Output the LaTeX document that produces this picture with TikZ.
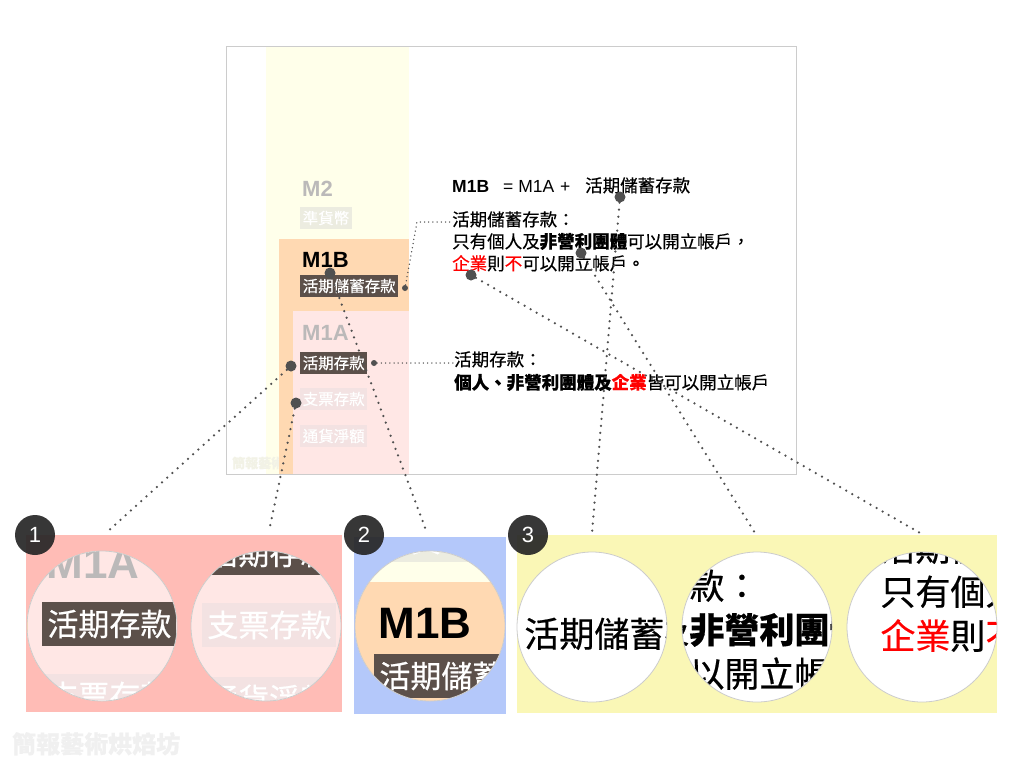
\documentclass[tikz,border=0pt]{standalone}
\usepackage{fontspec}
\setmainfont{Liberation Sans}
\newfontfamily\cjk{Noto Sans CJK TC}[FakeBold=0.5]
\usepackage{xcolor}
\usepackage{tikz}
\usetikzlibrary{positioning}
\definecolor{slyellow}{RGB}{255,255,234}
\definecolor{slpeach}{RGB}{255,217,178}
\definecolor{slpink}{RGB}{255,231,229}
\definecolor{slframe}{RGB}{204,204,204}
\definecolor{sldark}{RGB}{92,80,74}
\definecolor{slnear}{RGB}{236,236,224}
\definecolor{slpale}{RGB}{243,226,226}
\definecolor{slgray}{RGB}{187,185,185}
\definecolor{slmark}{RGB}{242,242,230}
\definecolor{pnred}{RGB}{255,188,182}
\definecolor{pnblue}{RGB}{180,200,250}
\definecolor{pnyellow}{RGB}{250,247,182}
\definecolor{dotgray}{RGB}{80,80,80}
\definecolor{markgray}{RGB}{240,240,240}
\tikzset{
  level/.style={anchor=base west, inner sep=0pt, font=\bfseries\fontsize{22}{24}\selectfont},
  tag/.style={anchor=west, inner xsep=2.5pt, inner ysep=0pt, minimum height=22pt, text=white, font=\cjk\fontsize{15.5}{16}\selectfont},
  latin/.style={anchor=base west, inner sep=0pt, font=\fontsize{17.5}{21}\selectfont},
  body/.style={anchor=base west, inner sep=0pt, font=\cjk\fontsize{17.5}{21}\selectfont},
  pin/.style={circle, fill=dotgray, inner sep=0pt, minimum size=11pt},
  smallpin/.style={circle, fill=dotgray, inner sep=0pt, minimum size=6pt},
  link/.style={draw=dotgray, line width=2.5pt, line cap=round, dash pattern=on 0pt off 7pt},
  thinlink/.style={draw=dotgray, line width=1.5pt, line cap=round, dash pattern=on 0pt off 4.2pt},
  lens/.style={circle, draw=slframe, line width=0.8pt, minimum size=150pt, inner sep=0pt},
  badge/.style={circle, fill=black!85, fill opacity=0.92, text opacity=1, text=white, minimum size=40pt, inner sep=0pt, font=\fontsize{22}{24}\selectfont},
  watermark/.style={inner sep=0pt, font=\cjk\bfseries\fontsize{13}{14}\selectfont, text=slmark}
}
% the slide itself, drawn once at full size and again inside every lens
\newcommand\slidebody{%
  \fill[slyellow] (266,46) rectangle (409,474);
  \node[watermark, anchor=base west] (slmark) at (232,468) {簡報藝術烘焙坊};
  \fill[slpeach] (279,239) rectangle (409,474);
  \fill[slpink] (293,311) rectangle (409,474);
  \node[level, text=slgray] (m2) at (302,196) {M2};
  \node[tag, fill=slnear] (near) at (300,218) {準貨幣};
  \node[level] (m1b) at (302,267) {M1B};
  \node[tag, fill=sldark] (save) at (300,286) {活期儲蓄存款};
  \node[level, text=slgray] (m1a) at (302,340) {M1A};
  \node[tag, fill=sldark] (demand) at (300,363) {活期存款};
  \node[tag, fill=slpale] (check) at (300,399) {支票存款};
  \node[tag, fill=slpale] (cash) at (300,436) {通貨淨額};
  \node[latin, font=\bfseries\fontsize{17.5}{21}\selectfont] (defname) at (452,192) {M1B};
  \node[latin] (defeq) at (503,192) {= M1A\,\,+};
  \node[body] (defsave) at (585,192) {活期儲蓄存款};
  \node[body] (lineA) at (452,226) {活期儲蓄存款：};
  \node[body] (lineB) at (452,248) {只有個人及\textbf{非營利團體}可以開立帳戶，};
  \node[body] (lineC) at (452,270) {\textcolor{red}{企業}則\textcolor{red}{不}可以開立帳戶。};
  \node[body] (lineD) at (454,366) {活期存款：};
  \node[body] (lineE) at (454,389) {{\bfseries 個人、非營利團體及\textcolor{red}{企業}}皆可以開立帳戶};
}
% one magnified view: centre x, centre y, slide x, slide y
\newcommand\lensview[4]{%
  \begin{scope}
    \clip (#1,#2) circle (75);
    \fill[white] (#1,#2) circle (75);
    \begin{scope}[shift={(#1,#2)}, scale=2, shift={(-#3,-#4)}, transform shape]
      \slidebody
    \end{scope}
  \end{scope}
}

\begin{document}
\begin{tikzpicture}[x=1pt, y=-1pt]
\useasboundingbox (0,0) rectangle (1024,768);
\fill[white] (0,0) rectangle (1024,768);

% slide
\slidebody
\draw[slframe, line width=0.8pt] (226,46) rectangle (796,474);

\node[smallpin] (tipS) at (405,288) {};
\node[smallpin] (tipA) at (374,363) {};
\coordinate (bendS) at (417,222);
\draw[thinlink] (tipS) -- (bendS) -- (bendS -| lineA.west);
\draw[thinlink] (tipA) -- (tipA -| lineD.west);

\node[pin] (pinB) at (330,273) {};
\node[pin] (pinA) at (291,366) {};
\node[pin] (pinC) at (296,403) {};
\node[pin] (pinS) at (620,197) {};
\node[pin] (pinN) at (581,253) {};
\node[pin] (pinE) at (471,275) {};

% panels below
\fill[pnred] (26,535) rectangle (342,712);
\fill[pnblue] (354,537) rectangle (506,714);
\fill[pnyellow] (517,535) rectangle (997,713);

\lensview{102}{626}{330}{364}
\lensview{266}{626}{332}{399.5}
\lensview{430}{626}{328}{261}
\lensview{592}{627}{619}{182}
\lensview{757}{627}{573.5}{240}
\lensview{922}{627}{473}{259}

\node[lens] (lensA) at (102,626) {};
\node[lens] (lensC) at (266,626) {};
\node[lens] (lensB) at (430,626) {};
\node[lens] (lensS) at (592,627) {};
\node[lens] (lensN) at (757,627) {};
\node[lens] (lensE) at (922,627) {};

\coordinate (endA) at (107,532);
\coordinate (endC) at (269,531);
\coordinate (endB) at (427,533);
\coordinate (endS) at (592,533);
\coordinate (endN) at (755,533);
\coordinate (endE) at (920,533);
\draw[link] (pinA) -- (endA);
\draw[link] (pinC) -- (endC);
\draw[link] (pinB) -- (endB);
\draw[link] (pinS) -- (endS);
\draw[link] (pinN) -- (endN);
\draw[link] (pinE) -- (endE);

\node[badge] (one) at (35,535) {1};
\node[badge] (two) at (364,535) {2};
\node[badge] (three) at (528,535) {3};

\node[watermark, anchor=base west, text=markgray, font=\cjk\bfseries\fontsize{24}{26}\selectfont] (footer) at (12,753) {簡報藝術烘焙坊};
\end{tikzpicture}
\end{document}
